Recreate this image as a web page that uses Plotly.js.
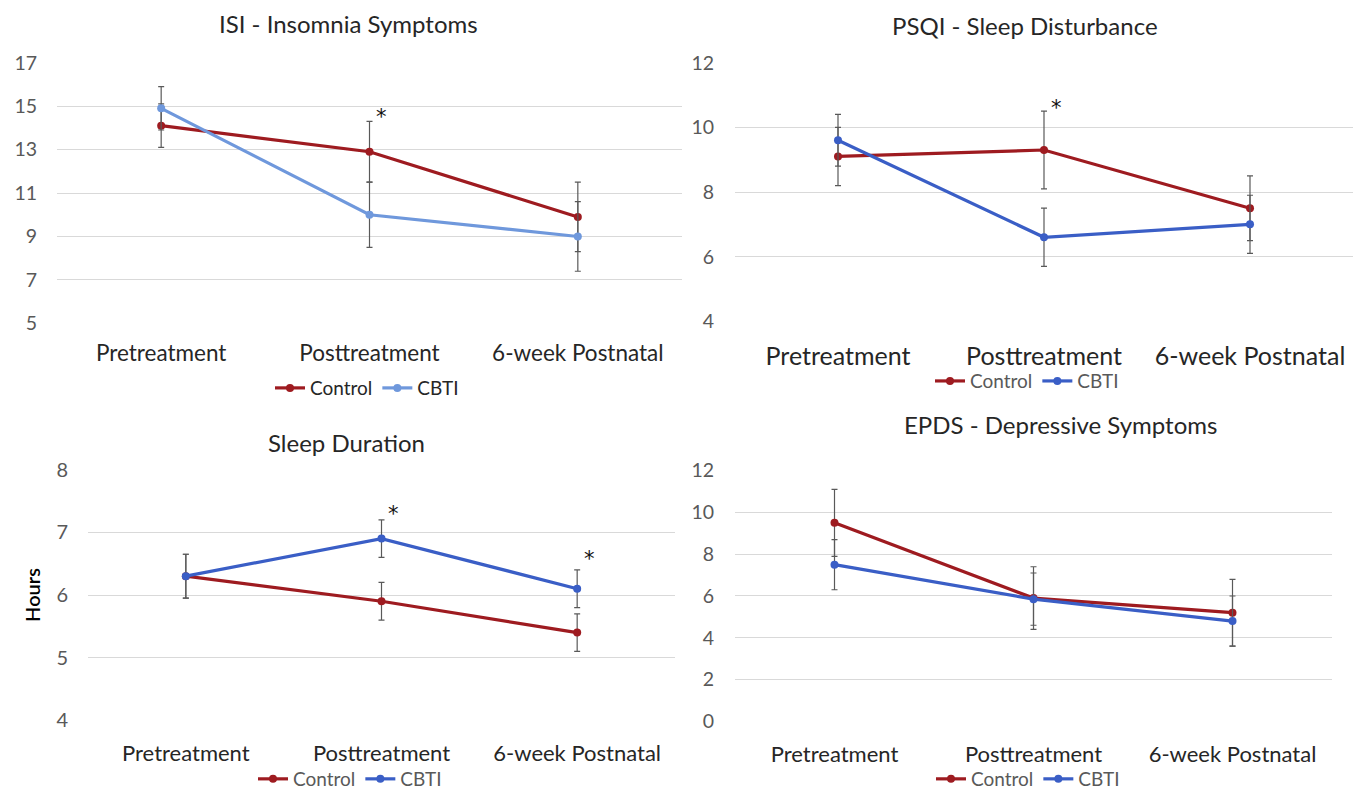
<!DOCTYPE html>
<html>
<head>
<meta charset="utf-8">
<script src="https://cdn.plot.ly/plotly-3.0.1.min.js"></script>
<style>
  html, body { margin: 0; padding: 0; background: #ffffff; }
  #chart { width: 1363px; height: 798px; }
</style>
</head>
<body>
<div id="chart"></div>
<script>
// ---- data ----
const timepoints = ["Pretreatment", "Posttreatment", "6-week Postnatal"];
const seriesNames = ["Control", "CBTI"];

const isiControl = [14.1, 12.9, 9.9];
const isiControlErr = [1.0, 1.4, 1.6];
const isiCBTI = [14.9, 10.0, 9.0];
const isiCBTIErr = [1.0, 1.5, 1.6];

const psqiControl = [9.1, 9.3, 7.5];
const psqiControlErr = [0.9, 1.2, 1.0];
const psqiCBTI = [9.6, 6.6, 7.0];
const psqiCBTIErr = [0.8, 0.9, 0.9];

const sleepControl = [6.3, 5.9, 5.4];
const sleepControlErr = [0.35, 0.3, 0.3];
const sleepCBTI = [6.3, 6.9, 6.1];
const sleepCBTIErr = [0.35, 0.3, 0.3];

const epdsControl = [9.5, 5.9, 5.2];
const epdsControlErr = [1.6, 1.5, 1.6];
const epdsCBTI = [7.5, 5.85, 4.8];
const epdsCBTIErr = [1.2, 1.25, 1.2];

const panelTitles = ["ISI - Insomnia Symptoms", "PSQI - Sleep Disturbance", "Sleep Duration", "EPDS - Depressive Symptoms"];

// ---- styling ----
const FONT = "Lato, 'Open Sans', sans-serif";
const RED = "#9E1B20";
const LIGHTBLUE = "#6F98DC";
const BLUE = "#3A5EC6";
const ERR = "#595959";

function mk(y, err, name, color, xa, ya, leg) {
  return {
    type: "scatter", mode: "lines+markers",
    x: timepoints, y: y, name: name,
    xaxis: xa, yaxis: ya, legend: leg,
    line: {color: color, width: 3.2},
    marker: {color: color, size: 8, symbol: "circle"},
    error_y: {type: "data", array: err, visible: true, color: ERR, thickness: 1.2, width: 3},
    hoverinfo: "x+y+name"
  };
}

const data = [
  mk(isiControl, isiControlErr, seriesNames[0], RED, "x", "y", "legend"),
  mk(isiCBTI, isiCBTIErr, seriesNames[1], LIGHTBLUE, "x", "y", "legend"),
  mk(psqiControl, psqiControlErr, seriesNames[0], RED, "x2", "y2", "legend2"),
  mk(psqiCBTI, psqiCBTIErr, seriesNames[1], BLUE, "x2", "y2", "legend2"),
  mk(sleepControl, sleepControlErr, seriesNames[0], RED, "x3", "y3", "legend3"),
  mk(sleepCBTI, sleepCBTIErr, seriesNames[1], BLUE, "x3", "y3", "legend3"),
  mk(epdsControl, epdsControlErr, seriesNames[0], RED, "x4", "y4", "legend4"),
  mk(epdsCBTI, epdsCBTIErr, seriesNames[1], BLUE, "x4", "y4", "legend4")
];

const W = 1363, H = 798;
const px = v => v / W;
const py = v => 1 - v / H;

function xax(d0, d1, anchor, fs, standoff) {
  return {
    domain: [px(d0), px(d1)], anchor: anchor, type: "category",
    range: [-0.5, 2.5], showgrid: false, zeroline: false, showline: false,
    ticks: "", ticklabelstandoff: standoff,
    tickfont: {family: FONT, size: fs, color: "#262626"}, fixedrange: true
  };
}
function yax(t, b, anchor, rng, dtick, fs, standoff) {
  return {
    domain: [py(b), py(t)], anchor: anchor, range: rng, dtick: dtick, tick0: rng[0],
    showgrid: true, gridcolor: "#D9D9D9", gridwidth: 1, zeroline: false, showline: false,
    ticks: "", ticklabelstandoff: standoff,
    tickfont: {family: FONT, size: fs, color: "#595959"}, fixedrange: true
  };
}

function leg(cx, cy, fs, color) {
  return {
    orientation: "h", x: px(cx), y: py(cy), xanchor: "center", yanchor: "middle",
    font: {family: FONT, size: fs, color: color}, itemwidth: 30, bgcolor: "rgba(0,0,0,0)",
    tracegroupgap: 0, itemclick: false, itemdoubleclick: false
  };
}

function titleAnn(text, cx, cy) {
  return {text: text, xref: "paper", yref: "paper", x: px(cx), y: py(cy),
    xanchor: "center", yanchor: "middle", showarrow: false,
    font: {family: FONT, size: 24, color: "#262626"}};
}
function star(xa, ya, xcat, yv) {
  return {text: "*", xref: xa, yref: ya, x: xcat, y: yv, xshift: 12,
    xanchor: "center", yanchor: "middle", showarrow: false,
    font: {family: "'DejaVu Sans', sans-serif", size: 21, color: "#111111"}};
}

const layout = {
  width: W, height: H,
  margin: {l: 0, r: 0, t: 0, b: 0},
  paper_bgcolor: "#ffffff", plot_bgcolor: "#ffffff",
  showlegend: true,
  xaxis: xax(57, 682, "y", 22.5, 14),
  yaxis: yax(63, 325, "x", [5, 17], 2, 19.5, 19),
  xaxis2: xax(735, 1353, "y2", 25, 18),
  yaxis2: yax(63, 323, "x2", [4, 12], 2, 19.5, 20),
  xaxis3: xax(88, 675, "y3", 22, 18),
  yaxis3: Object.assign(yax(472, 724, "x3", [4, 8], 1, 20, 19),
          {title: {text: "Hours", font: {family: FONT, size: 20, color: "#000000", weight: 600}, standoff: 10}}),
  xaxis4: xax(735, 1332, "y4", 22, 18),
  yaxis4: yax(473, 725, "x4", [0, 12], 2, 19.5, 20),
  legend: leg(367, 390, 19, "#262626"),
  legend2: leg(1027, 383, 19, "#595959"),
  legend3: leg(350, 783, 19, "#595959"),
  legend4: leg(1028, 783, 19, "#595959"),
  annotations: [
    titleAnn(panelTitles[0], 348, 24),
    titleAnn(panelTitles[1], 1025, 26),
    titleAnn(panelTitles[2], 346, 445),
    titleAnn(panelTitles[3], 1060, 427),
    star("x", "y", timepoints[1], 14.5),
    star("x2", "y2", timepoints[1], 10.6),
    star("x3", "y3", timepoints[1], 7.3),
    star("x3", "y3", timepoints[2], 6.58)
  ]
};

Plotly.newPlot("chart", data, layout, {displayModeBar: false, staticPlot: true});
</script>
</body>
</html>
